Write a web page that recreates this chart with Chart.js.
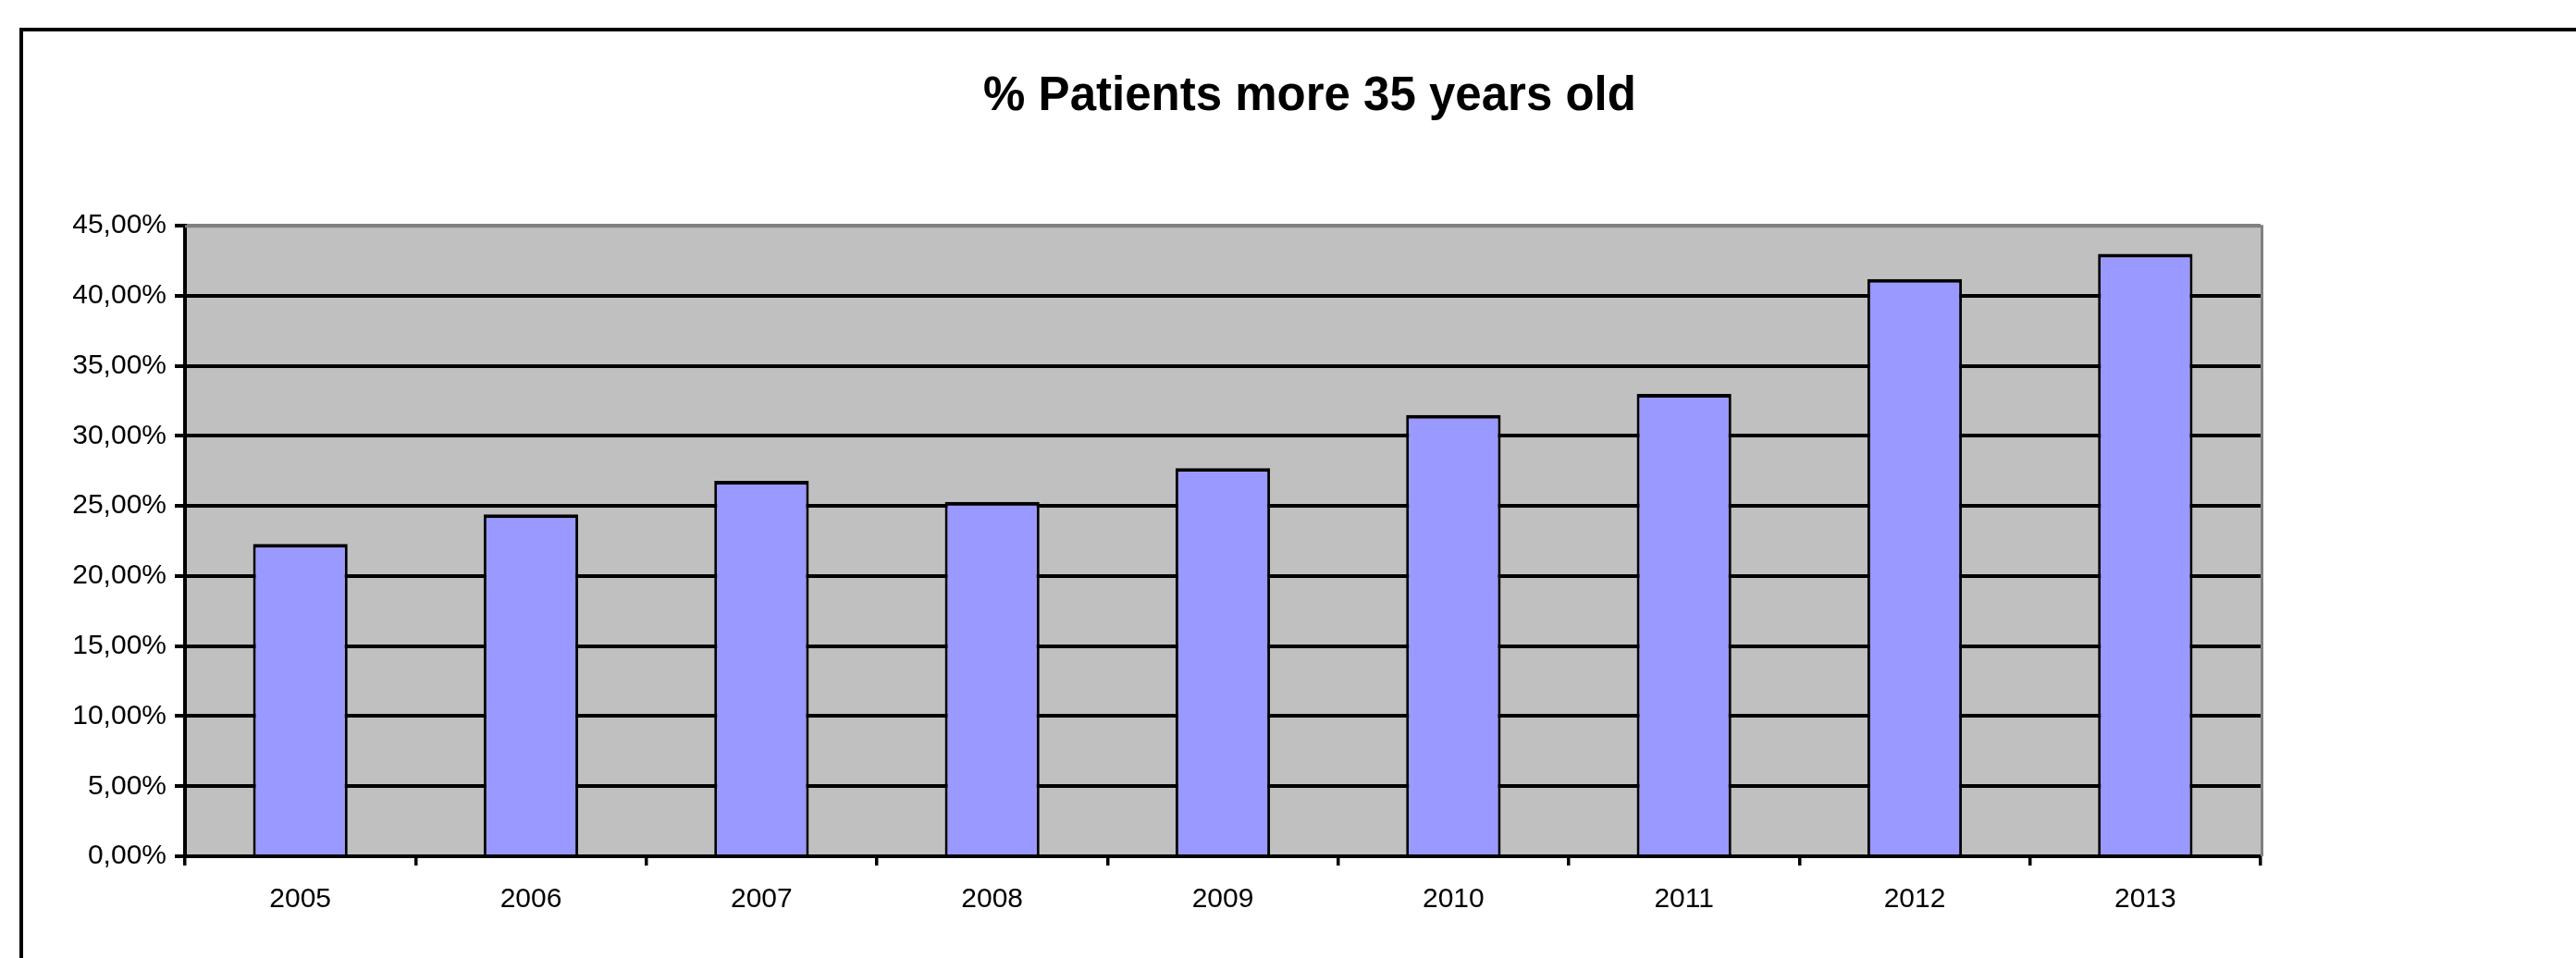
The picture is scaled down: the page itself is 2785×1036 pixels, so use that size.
<!DOCTYPE html>
<html>
<head>
<meta charset="utf-8">
<title>% Patients more 35 years old</title>
<script src="https://cdn.jsdelivr.net/npm/chart.js@4.4.1/dist/chart.umd.min.js"></script>
<style>
  html, body { margin: 0; padding: 0; background: #fff; overflow: hidden; }
  #wrap { position: relative; width: 2785px; height: 1036px; overflow: hidden; }
  #frame { position: absolute; left: 21px; top: 30px; width: 2780px; height: 1100px; border: 4px solid #000; box-sizing: border-box; }
  #c { position: absolute; left: 0; top: 0; }
</style>
</head>
<body>
<div id="wrap">
  <div id="frame"></div>
  <canvas id="c" width="2832" height="1036"></canvas>
</div>
<script>
  // values
  var years = ["2005", "2006", "2007", "2008", "2009", "2010", "2011", "2012", "2013"];
  var pctOver35 = [22.3, 24.4, 26.8, 25.3, 27.7, 31.5, 33.0, 41.2, 43.0];
  var yTickLabels = ["0,00%", "5,00%", "10,00%", "15,00%", "20,00%", "25,00%", "30,00%", "35,00%", "40,00%", "45,00%"];

  var FONT = "'Liberation Sans', Arial, Helvetica, sans-serif";

  // grey plot background + grey top/right edge like the Excel plot area
  var plotArea = {
    id: "plotArea",
    beforeDraw: function (chart) {
      var a = chart.chartArea;
      var ctx = chart.ctx;
      ctx.save();
      ctx.fillStyle = "#c0c0c0";
      ctx.fillRect(a.left, a.top, a.right - a.left, a.bottom - a.top);
      ctx.restore();
    },
    afterDatasetsDraw: function (chart) {
      var a = chart.chartArea;
      var ctx = chart.ctx;
      ctx.save();
      ctx.strokeStyle = "#808080";
      ctx.lineWidth = 3;
      ctx.beginPath();
      ctx.moveTo(a.left, a.top + 0.5);
      ctx.lineTo(a.right + 1.5, a.top + 0.5);
      ctx.lineTo(a.right + 1.5, a.bottom);
      ctx.stroke();
      ctx.restore();
    }
  };

  new Chart(document.getElementById("c").getContext("2d"), {
    type: "bar",
    data: {
      labels: years,
      datasets: [{
        data: pctOver35,
        backgroundColor: "#9999ff",
        borderColor: "#000",
        borderWidth: { top: 4, left: 3, right: 3, bottom: 0 },
        borderSkipped: "bottom",
        categoryPercentage: 1,
        barPercentage: 0.41
      }]
    },
    options: {
      responsive: false,
      devicePixelRatio: 1,
      animation: false,
      layout: { padding: 0 },
      plugins: {
        legend: { display: false },
        tooltip: { enabled: false },
        title: {
          display: true,
          text: "% Patients more 35 years old",
          color: "#000",
          font: { family: FONT, size: 51, weight: "bold", lineHeight: 1.2 },
          padding: { top: 74, bottom: 109 }
        }
      },
      scales: {
        x: {
          afterFit: function (scale) { scale.height = 110; },
          grid: {
            offset: true,
            drawOnChartArea: false,
            drawTicks: true,
            tickLength: 10,
            color: "#000",
            lineWidth: 3.5
          },
          border: { display: true, color: "#000", width: 4 },
          ticks: {
            color: "#000",
            padding: 19,
            maxRotation: 0,
            font: { family: FONT, size: 30 }
          }
        },
        y: {
          min: 0,
          max: 45,
          afterFit: function (scale) { scale.width = 200; },
          grid: {
            color: function (c) { return c.tick && c.tick.value === 45 ? "#808080" : "#000"; },
            tickColor: "#000",
            lineWidth: 4,
            tickLength: 11
          },
          border: { display: true, color: "#000", width: 4 },
          ticks: {
            stepSize: 5,
            color: "#000",
            padding: 9,
            font: { family: FONT, size: 30 },
            callback: function (value, index) { return yTickLabels[index]; }
          }
        },
        // empty right-hand box: keeps the plot narrow while the title stays centred on the whole frame
        spacer: {
          type: "linear",
          position: "right",
          display: true,
          afterFit: function (scale) { scale.width = 388; },
          grid: { display: false, drawTicks: false },
          border: { display: false },
          ticks: { display: false }
        }
      }
    },
    plugins: [plotArea]
  });
</script>
</body>
</html>
